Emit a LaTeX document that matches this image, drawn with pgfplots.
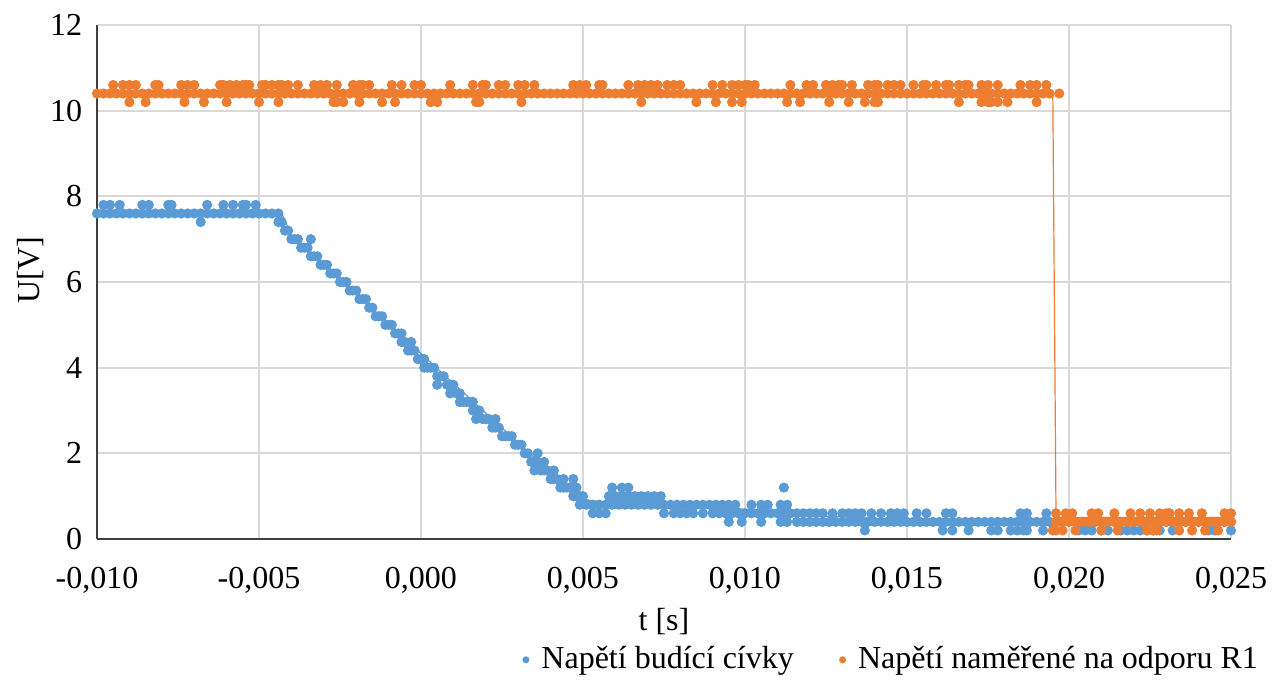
\documentclass[border=0pt]{standalone}
\usepackage{fontspec}
\setmainfont{Liberation Serif}
\usepackage{pgfplots}
\pgfplotsset{compat=1.18}
\definecolor{cblue}{HTML}{5B9BD5}
\definecolor{corange}{HTML}{ED7D31}
\definecolor{cgrid}{HTML}{D9D9D9}
\definecolor{caxis}{HTML}{404040}

\begin{document}
\begin{tikzpicture}
\begin{axis}[
    name=ax,
    width=425.25pt, height=192.75pt, scale only axis,
    xmin=-0.01, xmax=0.025, ymin=0, ymax=12,
    xtick={-0.01,-0.005,0,0.005,0.01,0.015,0.02,0.025},
    ytick={0,2,4,6,8,10,12},
    scaled x ticks=false,
    xticklabel style={yshift=-7pt, /pgf/number format/.cd, fixed, fixed zerofill, precision=3, use comma},
    /pgf/number format/assume math mode=true,
    axis x line*=bottom, axis y line*=left,
    axis line style={caxis, line width=0.75pt},
    major tick length=0pt,
    grid=major, major grid style={cgrid, line width=0.75pt},
    font=\fontsize{12}{14}\selectfont,
    ticklabel style={font=\fontsize{12}{14}\selectfont},
    xlabel={t [s]}, ylabel={U[V]},
    xlabel style={at={(axis description cs:0.5,-0.161)}, anchor=center},
    ylabel style={at={(axis description cs:-0.059,0.523)}, anchor=center},
    yticklabel style={xshift=-2pt},
    clip=false,
    legend columns=2,
    legend style={draw=none, fill=none, at={(1.036,-0.235)}, anchor=east,
        font=\fontsize{12}{14}\selectfont,
        /tikz/every odd column/.append style={column sep=2.5pt},
        /tikz/every even column/.append style={column sep=15pt}},
    blue marks/.style={only marks, mark=*, mark size=1.7pt, mark options={fill=cblue, draw=cblue}, forget plot},
    orange marks/.style={only marks, mark=*, mark size=1.7pt, mark options={fill=corange, draw=corange}, forget plot},
]

% thin connecting lines
\addplot[cblue, line width=0.45pt, forget plot] coordinates {
(-0.0100,7.6) (-0.0043,7.6) (-0.0040,7.1) (0.0048,1.0) (0.0052,0.9) (0.0065,0.8)
(0.0100,0.7) (0.0120,0.55) (0.0150,0.45) (0.0200,0.42) (0.0250,0.38)
};

% Napeti budici civky
\addplot[blue marks] coordinates {
(-0.0100,7.6) (-0.0098,7.6) (-0.0096,7.6) (-0.0094,7.6) (-0.0092,7.6) (-0.0090,7.6) (-0.0088,7.6) (-0.0086,7.6)
(-0.0084,7.6) (-0.0082,7.6) (-0.0080,7.6) (-0.0078,7.6) (-0.0076,7.6) (-0.0074,7.6) (-0.0072,7.6) (-0.0070,7.6)
(-0.0068,7.6) (-0.0066,7.6) (-0.0064,7.6) (-0.0062,7.6) (-0.0060,7.6) (-0.0058,7.6) (-0.0056,7.6) (-0.0054,7.6)
(-0.0052,7.6) (-0.0050,7.6) (-0.0048,7.6) (-0.0046,7.6) (-0.0044,7.6)
(-0.0098,7.8) (-0.0096,7.8) (-0.0093,7.8) (-0.0086,7.8) (-0.0084,7.8) (-0.0078,7.8) (-0.0077,7.8)
(-0.0066,7.8) (-0.0061,7.8) (-0.0058,7.8) (-0.0055,7.8) (-0.0054,7.8) (-0.0051,7.8) (-0.0068,7.4)
(-0.0044,7.4) (-0.0043,7.4) (-0.0042,7.2) (-0.0041,7.2) (-0.0040,7.0) (-0.0039,7.0) (-0.0038,7.0)
(-0.0037,6.8) (-0.0036,6.8) (-0.0035,6.8) (-0.0034,6.6) (-0.0034,7.0) (-0.0033,6.6) (-0.0032,6.6)
(-0.0031,6.4) (-0.0030,6.4) (-0.0029,6.4) (-0.0028,6.2) (-0.0027,6.2) (-0.0026,6.2) (-0.0025,6.0)
(-0.0024,6.0) (-0.0023,6.0) (-0.0022,5.8) (-0.0021,5.8) (-0.0020,5.8) (-0.0019,5.6) (-0.0018,5.6)
(-0.0017,5.6) (-0.0016,5.4) (-0.0015,5.4) (-0.0014,5.2) (-0.0013,5.2) (-0.0012,5.2) (-0.0011,5.0)
(-0.0010,5.0) (-0.0009,5.0) (-0.0008,4.8) (-0.0007,4.8) (-0.0006,4.8) (-0.0006,4.6) (-0.0005,4.6)
(-0.0003,4.6) (-0.0004,4.4) (-0.0003,4.4) (-0.0002,4.4) (-0.0001,4.2) (0.0000,4.2) (0.0001,4.2)
(0.0001,4.0) (0.0002,4.0) (0.0003,4.0) (0.0004,4.0) (0.0005,3.8) (0.0006,3.8) (0.0007,3.8)
(0.0005,3.6) (0.0008,3.6) (0.0009,3.6) (0.0010,3.6) (0.0009,3.4) (0.0011,3.4) (0.0012,3.4)
(0.0012,3.2) (0.0013,3.2) (0.0014,3.2) (0.0015,3.2) (0.0016,3.2) (0.0016,3.0) (0.0017,3.0)
(0.0018,3.0) (0.0017,2.8) (0.0019,2.8) (0.0020,2.8) (0.0021,2.8) (0.0023,2.8) (0.0022,2.6)
(0.0023,2.6) (0.0024,2.6) (0.0025,2.4) (0.0026,2.4) (0.0027,2.4) (0.0028,2.4) (0.0029,2.2)
(0.0030,2.2) (0.0031,2.2) (0.0032,2.0) (0.0033,2.0) (0.0036,2.0) (0.0034,1.8) (0.0035,1.8)
(0.0036,1.8) (0.0038,1.8) (0.0035,1.6) (0.0037,1.6) (0.0038,1.6) (0.0039,1.6) (0.0041,1.6)
(0.0040,1.4) (0.0041,1.4) (0.0042,1.4) (0.0044,1.4) (0.0047,1.4) (0.0043,1.2) (0.0044,1.2)
(0.0045,1.2) (0.0046,1.2) (0.0048,1.2) (0.0047,1.0) (0.0048,1.0) (0.0049,1.0) (0.0050,1.0)
(0.0049,0.8) (0.0051,0.8) (0.0053,0.8) (0.0055,0.8) (0.0057,0.8) (0.0059,0.8) (0.0061,0.8) (0.0063,0.8)
(0.0065,0.8) (0.0067,0.8) (0.0069,0.8) (0.0071,0.8) (0.0073,0.8) (0.0075,0.8) (0.0077,0.8) (0.0079,0.8)
(0.0081,0.8) (0.0083,0.8) (0.0085,0.8) (0.0087,0.8) (0.0089,0.8) (0.0091,0.8) (0.0093,0.8) (0.0095,0.8)
(0.0097,0.8) (0.0102,0.8) (0.0105,0.8) (0.0107,0.8) (0.0111,0.8) (0.0113,0.8)
(0.0058,1.0) (0.0060,1.0) (0.0062,1.0) (0.0064,1.0) (0.0066,1.0) (0.0068,1.0) (0.0070,1.0) (0.0072,1.0)
(0.0074,1.0) (0.0059,1.2) (0.0062,1.2) (0.0064,1.2) (0.0112,1.2)
(0.0053,0.6) (0.0055,0.6) (0.0057,0.6) (0.0075,0.6) (0.0078,0.6) (0.0080,0.6) (0.0082,0.6) (0.0084,0.6)
(0.0087,0.6) (0.0090,0.6) (0.0092,0.6) (0.0094,0.6) (0.0096,0.6) (0.0098,0.6) (0.0100,0.6) (0.0102,0.6)
(0.0104,0.6) (0.0106,0.6) (0.0108,0.6) (0.0110,0.6) (0.0112,0.6) (0.0114,0.6) (0.0116,0.6) (0.0118,0.6)
(0.0120,0.6) (0.0122,0.6) (0.0124,0.6) (0.0127,0.6) (0.0130,0.6) (0.0132,0.6) (0.0134,0.6) (0.0136,0.6)
(0.0139,0.6) (0.0142,0.6) (0.0145,0.6) (0.0147,0.6) (0.0149,0.6) (0.0153,0.6) (0.0156,0.6) (0.0162,0.6)
(0.0164,0.6) (0.0185,0.6) (0.0187,0.6) (0.0193,0.6) (0.0231,0.6)
(0.0095,0.4) (0.0099,0.4) (0.0105,0.4) (0.0111,0.4) (0.0113,0.4)
(0.0116,0.4) (0.0118,0.4) (0.0120,0.4) (0.0122,0.4) (0.0124,0.4) (0.0126,0.4) (0.0128,0.4) (0.0130,0.4)
(0.0132,0.4) (0.0134,0.4) (0.0136,0.4) (0.0138,0.4) (0.0140,0.4) (0.0142,0.4) (0.0144,0.4) (0.0146,0.4)
(0.0148,0.4) (0.0150,0.4) (0.0152,0.4) (0.0154,0.4) (0.0156,0.4) (0.0158,0.4) (0.0160,0.4) (0.0162,0.4)
(0.0164,0.4) (0.0166,0.4) (0.0168,0.4) (0.0170,0.4) (0.0172,0.4) (0.0174,0.4) (0.0176,0.4) (0.0178,0.4)
(0.0180,0.4) (0.0182,0.4) (0.0184,0.4) (0.0186,0.4) (0.0188,0.4) (0.0190,0.4) (0.0192,0.4) (0.0194,0.4)
(0.0196,0.4) (0.0198,0.4) (0.0200,0.4) (0.0202,0.4) (0.0204,0.4) (0.0206,0.4) (0.0208,0.4) (0.0210,0.4)
(0.0212,0.4) (0.0214,0.4) (0.0216,0.4) (0.0218,0.4) (0.0220,0.4) (0.0222,0.4) (0.0224,0.4) (0.0226,0.4)
(0.0228,0.4) (0.0230,0.4) (0.0232,0.4) (0.0234,0.4) (0.0236,0.4) (0.0238,0.4) (0.0240,0.4) (0.0242,0.4)
(0.0244,0.4) (0.0246,0.4) (0.0248,0.4) (0.0250,0.4)
(0.0137,0.2) (0.0161,0.2) (0.0164,0.2) (0.0169,0.2) (0.0176,0.2) (0.0178,0.2) (0.0182,0.2) (0.0184,0.2)
(0.0186,0.2) (0.0187,0.2) (0.0192,0.2) (0.0203,0.2) (0.0205,0.2) (0.0207,0.2) (0.0210,0.2) (0.0212,0.2)
(0.0216,0.2) (0.0218,0.2) (0.0220,0.2) (0.0222,0.2) (0.0224,0.2) (0.0226,0.2) (0.0228,0.2) (0.0232,0.2)
(0.0243,0.2) (0.0245,0.2) (0.0250,0.2)
};

\addplot[corange, line width=0.45pt, forget plot] coordinates {
(-0.0100,10.4) (0.0195,10.4) (0.0196,0.5) (0.0250,0.5)
};

% Napeti namerene na odporu R1
\addplot[orange marks] coordinates {
(-0.0100,10.4) (-0.0098,10.4) (-0.0096,10.4) (-0.0094,10.4) (-0.0092,10.4) (-0.0090,10.4) (-0.0088,10.4) (-0.0086,10.4)
(-0.0084,10.4) (-0.0082,10.4) (-0.0080,10.4) (-0.0078,10.4) (-0.0076,10.4) (-0.0074,10.4) (-0.0072,10.4) (-0.0070,10.4)
(-0.0068,10.4) (-0.0066,10.4) (-0.0064,10.4) (-0.0062,10.4) (-0.0060,10.4) (-0.0058,10.4) (-0.0056,10.4) (-0.0054,10.4)
(-0.0052,10.4) (-0.0050,10.4) (-0.0048,10.4) (-0.0046,10.4) (-0.0044,10.4) (-0.0042,10.4) (-0.0040,10.4) (-0.0038,10.4)
(-0.0036,10.4) (-0.0034,10.4) (-0.0032,10.4) (-0.0030,10.4) (-0.0028,10.4) (-0.0026,10.4) (-0.0024,10.4) (-0.0022,10.4)
(-0.0020,10.4) (-0.0018,10.4) (-0.0016,10.4) (-0.0014,10.4) (-0.0012,10.4) (-0.0010,10.4) (-0.0008,10.4) (-0.0006,10.4)
(-0.0004,10.4) (-0.0002,10.4) (0.0000,10.4) (0.0002,10.4) (0.0004,10.4) (0.0006,10.4) (0.0008,10.4) (0.0010,10.4)
(0.0012,10.4) (0.0014,10.4) (0.0016,10.4) (0.0018,10.4) (0.0020,10.4) (0.0022,10.4) (0.0024,10.4) (0.0026,10.4)
(0.0028,10.4) (0.0030,10.4) (0.0032,10.4) (0.0034,10.4) (0.0036,10.4) (0.0038,10.4) (0.0040,10.4) (0.0042,10.4)
(0.0044,10.4) (0.0046,10.4) (0.0048,10.4) (0.0050,10.4) (0.0052,10.4) (0.0054,10.4) (0.0056,10.4) (0.0058,10.4)
(0.0060,10.4) (0.0062,10.4) (0.0064,10.4) (0.0066,10.4) (0.0068,10.4) (0.0070,10.4) (0.0072,10.4) (0.0074,10.4)
(0.0076,10.4) (0.0078,10.4) (0.0080,10.4) (0.0082,10.4) (0.0084,10.4) (0.0086,10.4) (0.0088,10.4) (0.0090,10.4)
(0.0092,10.4) (0.0094,10.4) (0.0096,10.4) (0.0098,10.4) (0.0100,10.4) (0.0102,10.4) (0.0104,10.4) (0.0106,10.4)
(0.0108,10.4) (0.0110,10.4) (0.0112,10.4) (0.0114,10.4) (0.0116,10.4) (0.0118,10.4) (0.0120,10.4) (0.0122,10.4)
(0.0124,10.4) (0.0126,10.4) (0.0128,10.4) (0.0130,10.4) (0.0132,10.4) (0.0134,10.4) (0.0136,10.4) (0.0138,10.4)
(0.0140,10.4) (0.0142,10.4) (0.0144,10.4) (0.0146,10.4) (0.0148,10.4) (0.0150,10.4) (0.0152,10.4) (0.0154,10.4)
(0.0156,10.4) (0.0158,10.4) (0.0160,10.4) (0.0162,10.4) (0.0164,10.4) (0.0166,10.4) (0.0168,10.4) (0.0170,10.4)
(0.0172,10.4) (0.0174,10.4) (0.0176,10.4) (0.0178,10.4) (0.0180,10.4) (0.0182,10.4) (0.0184,10.4) (0.0186,10.4)
(0.0188,10.4) (0.0190,10.4) (0.0192,10.4) (0.0194,10.4) (0.0197,10.4)
(-0.0095,10.6) (-0.0092,10.6) (-0.0090,10.6) (-0.0088,10.6) (-0.0082,10.6) (-0.0081,10.6) (-0.0074,10.6) (-0.0072,10.6)
(-0.0070,10.6) (-0.0062,10.6) (-0.0061,10.6) (-0.0059,10.6) (-0.0057,10.6) (-0.0055,10.6) (-0.0054,10.6) (-0.0053,10.6)
(-0.0049,10.6) (-0.0048,10.6) (-0.0046,10.6) (-0.0044,10.6) (-0.0043,10.6) (-0.0041,10.6) (-0.0038,10.6) (-0.0033,10.6)
(-0.0031,10.6) (-0.0029,10.6) (-0.0026,10.6) (-0.0021,10.6) (-0.0019,10.6) (-0.0018,10.6) (-0.0016,10.6) (-0.0009,10.6)
(-0.0006,10.6) (-0.0002,10.6) (0.0000,10.6) (0.0009,10.6) (0.0016,10.6) (0.0019,10.6) (0.0020,10.6) (0.0024,10.6)
(0.0026,10.6) (0.0030,10.6) (0.0032,10.6) (0.0035,10.6) (0.0047,10.6) (0.0049,10.6) (0.0051,10.6) (0.0055,10.6)
(0.0056,10.6) (0.0064,10.6) (0.0067,10.6) (0.0069,10.6) (0.0071,10.6) (0.0073,10.6) (0.0076,10.6) (0.0078,10.6)
(0.0080,10.6) (0.0090,10.6) (0.0093,10.6) (0.0096,10.6) (0.0098,10.6) (0.0100,10.6) (0.0101,10.6) (0.0103,10.6)
(0.0114,10.6) (0.0119,10.6) (0.0121,10.6) (0.0125,10.6) (0.0127,10.6) (0.0129,10.6) (0.0130,10.6) (0.0133,10.6)
(0.0138,10.6) (0.0140,10.6) (0.0141,10.6) (0.0144,10.6) (0.0146,10.6) (0.0148,10.6) (0.0152,10.6) (0.0155,10.6)
(0.0156,10.6) (0.0159,10.6) (0.0162,10.6) (0.0163,10.6) (0.0166,10.6) (0.0168,10.6) (0.0169,10.6) (0.0173,10.6)
(0.0175,10.6) (0.0178,10.6) (0.0185,10.6) (0.0188,10.6) (0.0190,10.6) (0.0193,10.6)
(-0.0090,10.2) (-0.0085,10.2) (-0.0073,10.2) (-0.0067,10.2) (-0.0060,10.2) (-0.0050,10.2) (-0.0044,10.2) (-0.0027,10.2)
(-0.0026,10.2) (-0.0024,10.2) (-0.0019,10.2) (-0.0012,10.2) (-0.0008,10.2) (0.0003,10.2) (0.0005,10.2) (0.0017,10.2)
(0.0018,10.2) (0.0031,10.2) (0.0068,10.2) (0.0085,10.2) (0.0091,10.2) (0.0096,10.2) (0.0099,10.2) (0.0113,10.2)
(0.0117,10.2) (0.0126,10.2) (0.0132,10.2) (0.0137,10.2) (0.0140,10.2) (0.0141,10.2) (0.0166,10.2) (0.0173,10.2)
(0.0175,10.2) (0.0176,10.2) (0.0178,10.2) (0.0181,10.2) (0.0190,10.2)
(0.0196,0.4) (0.0198,0.4) (0.0200,0.4) (0.0202,0.4) (0.0204,0.4) (0.0206,0.4) (0.0208,0.4) (0.0210,0.4)
(0.0212,0.4) (0.0214,0.4) (0.0216,0.4) (0.0218,0.4) (0.0220,0.4) (0.0222,0.4) (0.0224,0.4) (0.0226,0.4)
(0.0228,0.4) (0.0230,0.4) (0.0232,0.4) (0.0234,0.4) (0.0236,0.4) (0.0238,0.4) (0.0240,0.4) (0.0242,0.4)
(0.0244,0.4) (0.0246,0.4) (0.0248,0.4) (0.0250,0.4)
(0.0196,0.6) (0.0199,0.6) (0.0201,0.6) (0.0207,0.6) (0.0209,0.6) (0.0214,0.6) (0.0219,0.6) (0.0222,0.6)
(0.0225,0.6) (0.0228,0.6) (0.0230,0.6) (0.0231,0.6) (0.0234,0.6) (0.0237,0.6) (0.0241,0.6) (0.0248,0.6)
(0.0250,0.6)
(0.0195,0.2) (0.0196,0.2) (0.0198,0.2) (0.0202,0.2) (0.0210,0.2) (0.0215,0.2) (0.0224,0.2) (0.0226,0.2)
(0.0227,0.2) (0.0234,0.2) (0.0238,0.2) (0.0242,0.2) (0.0246,0.2)
};

\addlegendimage{legend image code/.code={\fill[cblue] (0cm,0cm) circle (1.1pt);}}
\addlegendentry{Napětí budící cívky}
\addlegendimage{legend image code/.code={\fill[corange] (0cm,0cm) circle (1.1pt);}}
\addlegendentry{Napětí naměřené na odporu R1}
\end{axis}
\pgfresetboundingbox
\path ([shift={(-36.375pt,-52.875pt)}]ax.south west) rectangle ([shift={(444.75pt,202.125pt)}]ax.south west);
\end{tikzpicture}
\end{document}
